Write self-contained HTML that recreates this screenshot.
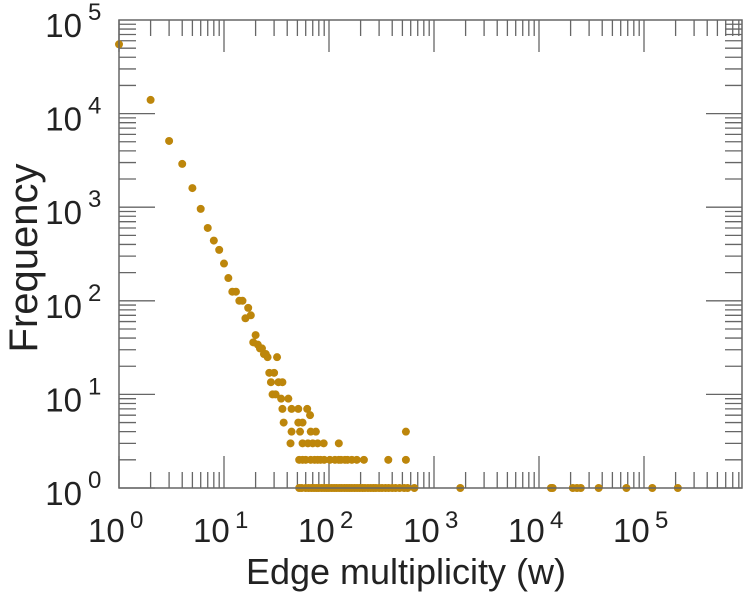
<!DOCTYPE html>
<html><head><meta charset="utf-8"><style>
html,body{margin:0;padding:0;background:#fff;}
svg{display:block;font-family:"Liberation Sans",sans-serif;}
</style></head><body>
<svg id="chart" width="749" height="600" viewBox="0 0 749 600" xmlns="http://www.w3.org/2000/svg">
<g id="ticks"></g>
<g id="points"></g>
<rect x="119" y="20" width="623" height="468" fill="none" stroke="#666" stroke-width="1.5"/>
<g id="labels"></g>
<text x="406" y="584" font-size="36" text-anchor="middle" fill="#222">Edge multiplicity (w)</text>
<text transform="translate(37,258) rotate(-90)" font-size="40" text-anchor="middle" fill="#222">Frequency</text>
</svg>
<script>
const xTickExps=[0,1,2,3,4,5];
const yTickExps=[0,1,2,3,4,5];
const xVals=[1,2,3,4,5,6,7,8,9,10,11,12,13,14,15,16,17,18,19,20,21,22,23,24,25,26,32,27,30,28,36,33,29,31,
35,41,36,44,51,62,66,37,51,56,44,53,67,75,540,43,56,63,70,78,89,124,
52,56,60,67,73,78,83,90,102,114,124,130,142,150,165,184,215,367,540,
52,55,60,64,68,72,76,80,85,90,95,100,106,112,118,125,132,140,148,156,165,175,185,196,208,220,235,250,265,280,300,320,345,370,400,430,470,520,560,650,1780,13000,13500,21000,23000,25000,37000,68000,120000,210000];
const yVals=[55000,14000,5100,2900,1600,960,600,440,350,250,175,125,125,100,100,65,84,70,36,43,34,31,31,27,27,25,25,17,17,13.5,13.5,13.5,10,10,
9,9,7,7,7,7,6,5,5,5,4,4,4,4,4,3,3,3,3,3,3,3,
2,2,2,2,2,2,2,2,2,2,2,2,2,2,2,2,2,2,2,
1,1,1,1,1,1,1,1,1,1,1,1,1,1,1,1,1,1,1,1,1,1,1,1,1,1,1,1,1,1,1,1,1,1,1,1,1,1,1,1,1,1,1,1,1,1,1,1,1,1];
const X0=119,XD=105,Y0=488,YD=93.6,XR=742,YT=20;
function sx(v){return X0+XD*Math.log10(v);}
function sy(v){return Y0-YD*Math.log10(v);}
const NS='http://www.w3.org/2000/svg';
const tg=document.getElementById('ticks');
function line(x1,y1,x2,y2,name){const l=document.createElementNS(NS,'line');
l.setAttribute('x1',x1);l.setAttribute('y1',y1);l.setAttribute('x2',x2);l.setAttribute('y2',y2);
l.setAttribute('stroke','#666');l.setAttribute('stroke-width','1.3');


tg.appendChild(l);}
for(let e=0;e<6;e++){for(let m=1;m<10;m++){const v=m*Math.pow(10,e);const x=sx(v);if(x>XR-1)continue;
const L=m===1?32:16;line(x,Y0,x,Y0-L,'x-tick');line(x,YT,x,YT+L,'x-tick-top');}}
for(let e=0;e<5;e++){for(let m=1;m<10;m++){const v=m*Math.pow(10,e);const y=sy(v);
const L=m===1?36:17;line(X0,y,X0+L,y,'y-tick');line(XR,y,XR-L,y,'y-tick-right');}}
const lg=document.getElementById('labels');
function txt(x,y,s,fs,anchor,name){const t=document.createElementNS(NS,'text');
t.setAttribute('x',x);t.setAttribute('y',y);t.setAttribute('font-size',fs);t.setAttribute('fill','#222');
if(anchor)t.setAttribute('text-anchor',anchor);t.textContent=s;


lg.appendChild(t);}
xTickExps.forEach(e=>{const x=sx(Math.pow(10,e));txt(x-31,542,'10',33,null,'x-tick-label');txt(x+11,528,String(e),24,null,'x-tick-exponent');});
yTickExps.forEach(e=>{const y=sy(Math.pow(10,e));txt(82,y+17,'10',33,'end','y-tick-label');txt(88,y,String(e),24,null,'y-tick-exponent');});
const pg=document.getElementById('points');
xVals.forEach((v,i)=>{const c=document.createElementNS(NS,'circle');
c.setAttribute('cx',sx(v));c.setAttribute('cy',sy(yVals[i]));c.setAttribute('r','4');c.setAttribute('fill','#bd860b');


pg.appendChild(c);});
</script>
</body></html>
